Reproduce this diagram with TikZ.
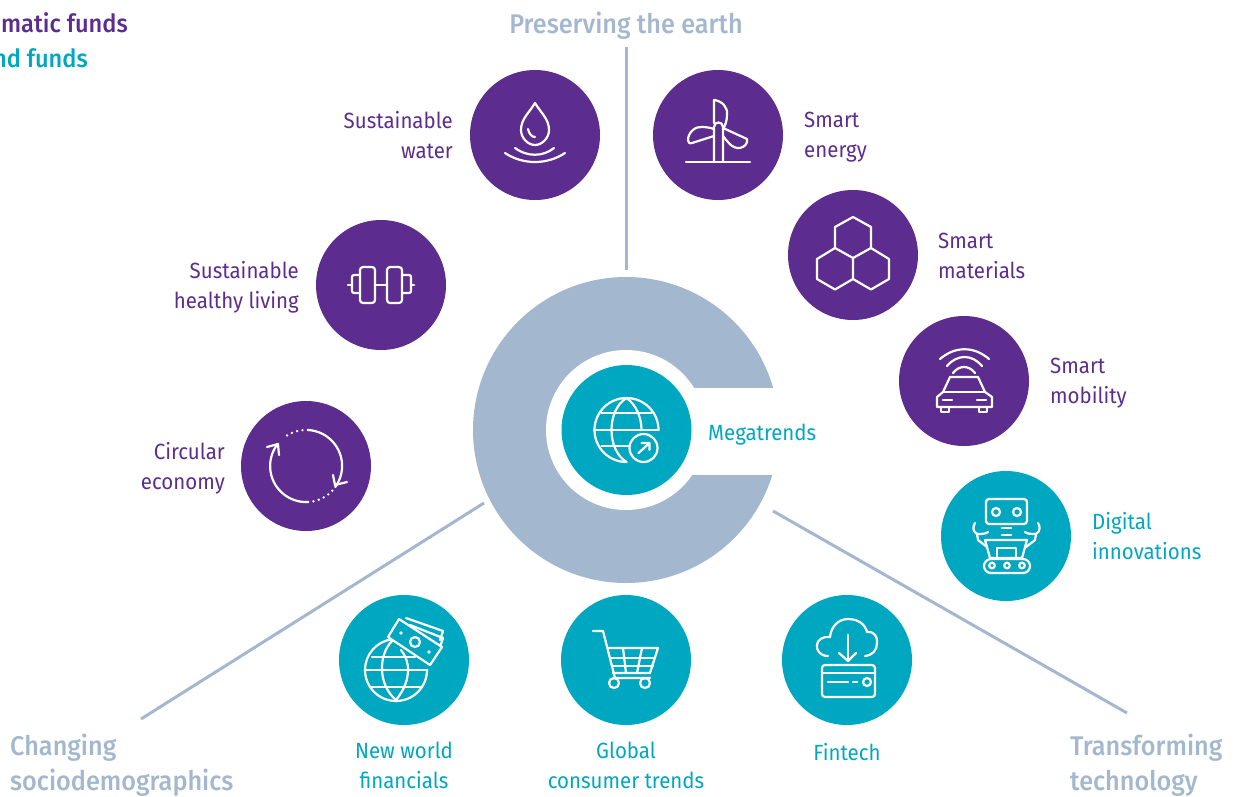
\documentclass[tikz,border=0pt]{standalone}
\usepackage{fontspec}
\setmainfont{Fira Sans}[FakeStretch=0.93]
\newfontfamily\headfont{Fira Sans}[UprightFont={* Medium},FakeStretch=0.935]
\newfontfamily\topfont{Fira Sans}[UprightFont={* Medium},FakeStretch=0.945]
\definecolor{pur}{HTML}{5C2D8E}
\definecolor{tea}{HTML}{00A7C0}
\definecolor{gre}{HTML}{A3B8CE}
\tikzset{
 x=1pt,y=-1pt,
 disc/.style={circle,minimum size=130pt,inner sep=0pt,draw=none},
 pdisc/.style={disc,fill=pur},
 tdisc/.style={disc,fill=tea},
 lab/.style={font=\fontsize{22}{30}\selectfont,inner sep=0pt,execute at begin node=\strut,execute at end node=\strut},
 plab/.style={lab,text=pur},
 tlab/.style={lab,text=tea},
 glab/.style={font=\fontsize{27}{35}\selectfont\headfont,text=gre,inner sep=0pt,align=left,execute at begin node=\strut,execute at end node=\strut},
 tlt/.style={font=\fontsize{25}{34}\selectfont\topfont,inner sep=0pt,anchor=base east},
 axis/.style={draw=gre,line width=3pt},
 ico/.style={draw=white,line width=2.2pt,line cap=round,line join=round},
}
\begin{document}
\begin{tikzpicture}
\useasboundingbox (0,0) rectangle (1236,796);
% ring
\fill[gre] (626,430) circle[radius=153];
\fill[white] (626,430) circle[radius=80];
\fill[white] (626,388) rectangle (800,475);
\node[tdisc] (mega) at (626.5,430) {};
% axes
\coordinate (a1) at (626.5,270); \coordinate (a2) at (626.5,47);
\coordinate (b1) at (484,503); \coordinate (b2) at (141,719);
\coordinate (c1) at (773,511); \coordinate (c2) at (1127,713);
\draw[axis] (a1)--(a2);
\draw[axis] (b1)--(b2);
\draw[axis] (c1)--(c2);
% discs
\node[pdisc] (water) at (535,135) {};
\node[pdisc] (energy) at (718,135) {};
\node[pdisc] (materials) at (853,255) {};
\node[pdisc] (mobility) at (964,381) {};
\node[pdisc] (healthy) at (381,285) {};
\node[pdisc] (circular) at (306,466) {};
\node[tdisc] (digital) at (1006,536) {};
\node[tdisc] (fintech) at (847,660) {};
\node[tdisc] (cart) at (626,660) {};
\node[tdisc] (financials) at (404,660) {};
% labels
\node[plab,anchor=east,align=right] (l1) at (453,139) {Sustainable\\water};
\node[plab,anchor=west,align=left] (l2) at (804,139.5) {Smart\\energy};
\node[plab,anchor=west,align=left] (l3) at (938,260) {Smart\\materials};
\node[plab,anchor=west,align=left] (l4) at (1050,385.5) {Smart\\mobility};
\node[plab,anchor=east,align=right] (l5) at (299,289) {Sustainable\\healthy living};
\node[plab,anchor=east,align=right] (l6) at (225,470.5) {Circular\\economy};
\node[tlab,anchor=west,align=left] (l7) at (1092,540) {Digital\\innovations};
\node[tlab,anchor=west] (l8) at (708,434) {Megatrends};
\node[tlab,align=center] (l9) at (404,770) {New world\\financials};
\node[tlab,align=center] (l10) at (626,770) {Global\\consumer trends};
\node[tlab] (l11) at (847,754) {Fintech};
\node[glab] (g1) at (626,26) {Preserving the earth};
\node[glab,anchor=west] (g2) at (10,767.5) {Changing\\sociodemographics};
\node[glab,anchor=west] (g3) at (1070,767.5) {Transforming\\technology};
\node[tlt,text=pur] (t1) at (128,32) {matic funds};
\node[tlt,text=tea] (t2) at (88,67) {nd funds};
% water
\begin{scope}[shift={(535,135)},ico]
\draw (0,-32) .. controls (6,-22) and (14,-16) .. (14,-5) .. controls (14,3) and (7,10) .. (0,10) .. controls (-7,10) and (-14,3) .. (-14,-5) .. controls (-14,-16) and (-6,-22) .. (0,-32) -- cycle;
\draw (-7,-6) .. controls (-6,-1) and (-3,2) .. (0,2);
\draw (-20,13) .. controls (-8,22) and (8,22) .. (19,13);
\draw (-30,18) .. controls (-12,30) and (12,30) .. (30,18);
\end{scope}
% energy
\begin{scope}[shift={(718,135)},ico]
\draw (-32,27) -- (32,27);
\draw (-4,27) -- (-4,-8) .. controls (-4,-14) and (5,-14) .. (5,-8) -- (5,27);
\draw (-4,-12) -- (-4,-35) .. controls (4,-34) and (10,-28) .. (9,-20) .. controls (9,-14) and (7,-9) .. (5,-6);
\draw (-4,1) -- (-26,8) .. controls (-29,9) and (-30,7) .. (-30,5) .. controls (-30,-3) and (-22,-9) .. (-16,-8) .. controls (-11,-8) and (-7,-7) .. (-4,-6);
\draw (5,-7) -- (29,4) .. controls (30,8) and (27,12) .. (22,13) .. controls (14,14) and (9,6) .. (5,1);
\end{scope}
% materials
\begin{scope}[shift={(853,255)},ico]
\draw (0,-38) -- (18,-28) -- (18,-7) -- (0,3) -- (-18,-7) -- (-18,-28) -- cycle;
\draw (0,3) -- (0,24) -- (-18,34.5) -- (-36,24) -- (-36,4) -- (-18,-7);
\draw (0,24) -- (18,34.5) -- (36,24) -- (36,4) -- (18,-7);
\end{scope}
% mobility
\begin{scope}[shift={(964,381)},ico]
\draw (-24,-22) .. controls (-9,-35) and (10,-35) .. (25,-22);
\draw (-17,-15) .. controls (-7,-27) and (8,-27) .. (18,-15);
\draw (-11,-8) .. controls (-5,-16) and (5,-16) .. (11,-8);
\draw (-14,-4) -- (14,-4) -- (21,11) -- (28,16) -- (28,26) -- (-27,26) -- (-27,16) -- (-21,11) -- cycle;
\draw (-21,11) -- (21,11);
\draw (-21,19) -- (-12,19); \draw (13,19) -- (22,19);
\draw (-23,26) -- (-23,31) -- (-15,31) -- (-15,26);
\draw (15,26) -- (15,31) -- (23,31) -- (23,26);
\end{scope}
% healthy
\begin{scope}[shift={(381,285)},ico]
\draw[rounded corners=3pt] (-21,-18) rectangle (-6,18);
\draw[rounded corners=3pt] (6,-18) rectangle (21,18);
\draw (-6,0) -- (6,0);
\draw[rounded corners=2pt] (-21,-10) -- (-29,-10) -- (-29,8) -- (-21,8);
\draw[rounded corners=2pt] (21,-10) -- (30,-10) -- (30,8) -- (21,8);
\draw (-33,0) -- (-29,0); \draw (30,0) -- (33,0);
\end{scope}
% circular
\begin{scope}[shift={(306,466)},ico]
\draw (2,-36) arc[start angle=-87,end angle=36,radius=36];
\draw (2,36) arc[start angle=87,end angle=218,radius=36];
\draw[line width=2.6pt,dash pattern=on 0pt off 5.5pt] (2,-36) arc[start angle=-87,end angle=-128,radius=36];
\draw[line width=2.6pt,dash pattern=on 0pt off 5.5pt] (2,36) arc[start angle=87,end angle=38,radius=36];
\draw (-39,-19) -- (-28,-22) -- (-27,-11);
\draw (27,9) -- (29,19) -- (41,16);
\end{scope}
% globe mega
\begin{scope}[shift={(626.5,430)},ico]
\draw (32,0) arc[start angle=0,end angle=-270,radius=32];
\draw (0,-32) .. controls (-20,-20) and (-20,20) .. (0,32);
\draw (0,-32) .. controls (10,-25) and (15,-12) .. (15,0);
\draw (-32,0) -- (32,0);
\draw (-25,-17) -- (25,-17);
\draw (-25,16) -- (2,16);
\draw (17,18) circle[radius=14];
\draw (12,23) -- (23,13) (15,13) -- (23,13) -- (23,20);
\end{scope}
% financials
\begin{scope}[shift={(404,660)},ico]
\draw (23,10) arc[start angle=0,end angle=262,radius=31];
\draw (-12,-19) .. controls (-26,-5) and (-26,25) .. (-8,40);
\draw (-8,40) .. controls (0,30) and (4,20) .. (4,10) .. controls (4,2) and (2,-3) .. (-3,-10);
\draw (-32,-3) -- (11,-3);
\draw (-39,10) -- (23,10);
\draw (-34,27) -- (18,27);
\draw (2,-42) -- (39,-29) -- (36,-20);
\draw (6,-35) -- (39,-22) -- (36,-13);
\draw[fill=tea] (-5,-41) -- (38,-13) -- (26,5) -- (-16,-23) -- cycle;
\draw (11,-18) circle[radius=5];
\fill[white,draw=none] (-3,-27) circle[radius=1.8] (25,-8) circle[radius=1.8];
\end{scope}
% cart
\begin{scope}[shift={(626,660)},ico]
\draw (-33,-29) -- (-23,-29) -- (-11,18) -- (24,18);
\draw (-18,-12) -- (32,-12) -- (24,13) -- (-13,13);
\draw (-16,-2) -- (29,-2);
\draw (-14,6) -- (27,6);
\draw (-3,-12) -- (0,13);
\draw (16,-12) -- (11,13);
\draw (-12,23) circle[radius=5];
\draw (19,23) circle[radius=5];
\end{scope}
% fintech
\begin{scope}[shift={(847,660)},ico]
\draw (-19,-4) .. controls (-27,-4) and (-31,-10) .. (-30,-15) .. controls (-30,-20) and (-24,-24) .. (-17,-23) .. controls (-16,-34) and (-8,-41) .. (1,-41) .. controls (11,-41) and (18,-36) .. (20,-28) .. controls (27,-29) and (31,-23) .. (30,-17) .. controls (30,-10) and (26,-5) .. (18,-4);
\draw (1,-25) -- (1,1);
\draw (-8,-7) -- (1,1) -- (9,-7);
\draw[rounded corners=3pt] (-25,5) rectangle (28,37);
\draw (-25,13) -- (28,13);
\draw (-19,22) -- (1,22);
\draw (6,22) -- (10,22);
\draw (20,22) circle[radius=4];
\end{scope}
% robot
\begin{scope}[shift={(1006,536)},ico]
\draw[rounded corners=3pt] (-20,-37) rectangle (21,-12);
\draw (-10,-24) circle[radius=4];
\draw (11,-24) circle[radius=4];
\draw (-4,-8) -- (5,-8); \draw (-4,-1) -- (5,-1);
\draw (-21,4) -- (21,4) -- (16,22) -- (-16,22) -- cycle;
\draw (-9,22) -- (-9,12) -- (10,12) -- (10,22);
\draw[rounded corners=7pt] (-22,23) rectangle (24,37);
\draw (-14,29.5) circle[radius=2.8];
\draw (1,29.5) circle[radius=2.8];
\draw (16,29.5) circle[radius=2.8];
\draw (-19,11) -- (-28,4) -- (-29,-2) .. controls (-34,-5) and (-33,-10) .. (-31,-13);
\draw (-29,-2) .. controls (-25,-2) and (-20,-2) .. (-18,-4);
\draw (20,11) -- (29,4) -- (30,-2) .. controls (35,-5) and (34,-10) .. (32,-13);
\draw (30,-2) .. controls (26,-2) and (21,-2) .. (19,-4);
\end{scope}
\end{tikzpicture}
\end{document}
